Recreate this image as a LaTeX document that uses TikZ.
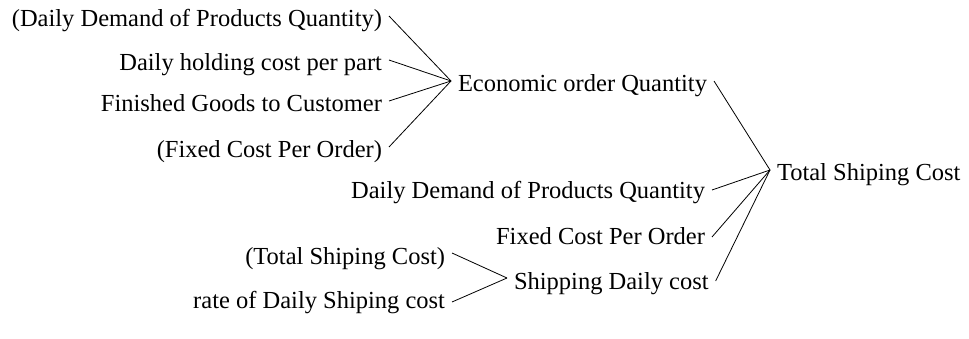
\documentclass[tikz,border=0pt]{standalone}
\usepackage{fontspec}
\setmainfont{Liberation Serif}
\begin{document}
\begin{tikzpicture}[x=1pt,y=-1pt,
  var/.style={inner sep=0pt, outer xsep=7pt, outer ysep=0pt,
    text height=22pt, text depth=0pt,
    font=\fontsize{24.5}{28}\selectfont},
  link/.style={draw=black, line width=0.8pt}]
\useasboundingbox (0,0) rectangle (969,339);
% first group
\node[var, anchor=east] (a1) at (389,16) {(Daily Demand of Products Quantity)};
\node[var, anchor=east] (a2) at (389,60) {Daily holding cost per part};
\node[var, anchor=east] (a3) at (389,101) {Finished Goods to Customer};
\node[var, anchor=east] (a4) at (389,147) {(Fixed Cost Per Order)};
\node[var, anchor=west] (eoq) at (451,81) {Economic order Quantity};
% total
\node[var, anchor=west] (tsc) at (770,170) {Total Shiping Cost};
\node[var, anchor=east] (dd) at (712,188) {Daily Demand of Products Quantity};
\node[var, anchor=east] (fc) at (712,233) {Fixed Cost Per Order};
\node[var, anchor=west] (sdc) at (507,278) {Shipping Daily cost};
% shipping group
\node[var, anchor=east] (ts) at (452,253) {(Total Shiping Cost)};
\node[var, anchor=east] (rate) at (452,297) {rate of Daily Shiping cost};
% connectors
\foreach \s in {a1,a2,a3,a4} \draw[link] (\s.east) -- (eoq.west);
\draw[link] (eoq.east) -- (tsc.west);
\draw[link] ([yshift=-2pt]dd.east) -- (tsc.west);
\draw[link] ([yshift=-4pt]fc.east) -- (tsc.west);
\draw[link] ([yshift=-3pt]sdc.east) -- (tsc.west);
\draw[link] (ts.east) -- (sdc.west);
\draw[link] ([yshift=-5pt]rate.east) -- (sdc.west);
\end{tikzpicture}
\end{document}
